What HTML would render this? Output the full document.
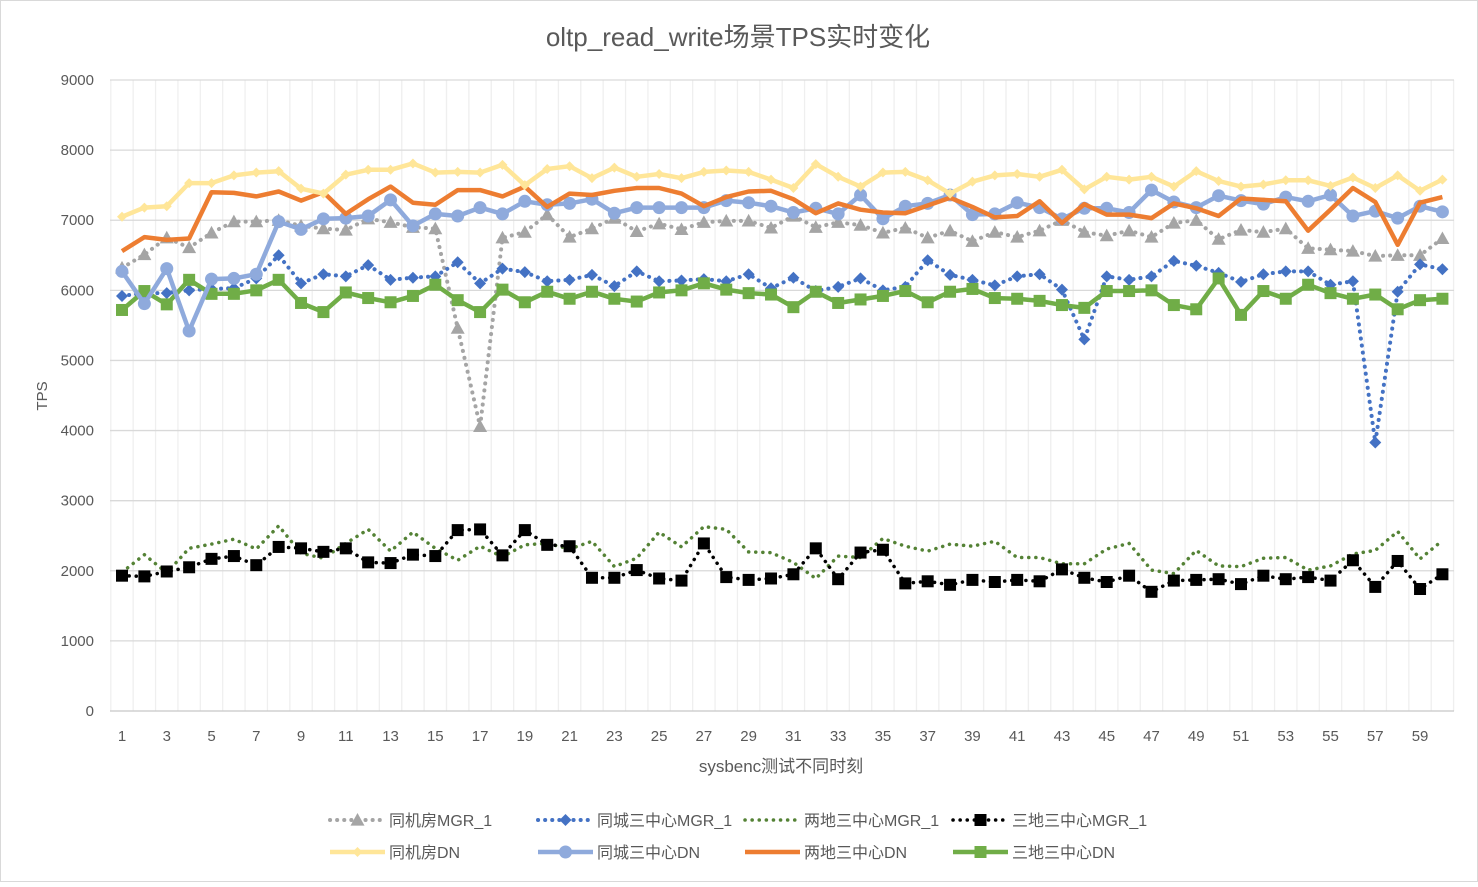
<!DOCTYPE html>
<html><head><meta charset="utf-8"><style>
body{margin:0;background:#fff}
svg text{font-family:"Liberation Sans","Noto Sans CJK SC",sans-serif;fill:#595959}
</style></head><body>
<svg id="c" width="1478" height="882" xmlns="http://www.w3.org/2000/svg">
<rect x="0.5" y="0.5" width="1477" height="881" fill="#fff" stroke="#d9d9d9"/>
<text x="738" y="46" font-size="26" text-anchor="middle">oltp_read_write场景TPS实时变化</text>
<text transform="translate(47,396) rotate(-90)" font-size="15" text-anchor="middle">TPS</text>
<text x="781" y="772" font-size="17" text-anchor="middle">sysbenc测试不同时刻</text>
<g id="grid"></g><g id="series"></g><g id="lab"></g><g id="leg"></g>
</svg>
<script>
const NS="http://www.w3.org/2000/svg";
function el(t,a,p){const e=document.createElementNS(NS,t);for(const k in a)e.setAttribute(k,a[k]);if(p)p.appendChild(e);return e;}
const X=i=>122+(i-1)*22.38, Y=v=>711-v*0.07011;
const g=document.getElementById('grid'),lab=document.getElementById('lab');
for(let k=0;k<=60;k++){const x=110.8+k*22.38;el('line',{x1:x,x2:x,y1:80,y2:711,stroke:'#efefef','stroke-width':1.3},g);}
for(let v=0;v<=9000;v+=1000){const y=Y(v);el('line',{x1:110,x2:1454,y1:y,y2:y,stroke:v?'#d9d9d9':'#c8c8c8','stroke-width':1.3},g);
 const t=el('text',{x:94,y:y+5,'font-size':15,'text-anchor':'end'},lab);t.textContent=v;}
for(let i=1;i<=60;i+=2){const t=el('text',{x:X(i),y:741,'font-size':15,'text-anchor':'middle'},lab);t.textContent=i;}
const D={
y:[7050,7180,7200,7530,7530,7640,7680,7700,7450,7380,7650,7720,7720,7810,7680,7690,7680,7790,7500,7730,7770,7600,7750,7620,7660,7600,7690,7710,7690,7580,7460,7800,7620,7480,7680,7690,7570,7380,7550,7640,7660,7620,7720,7440,7620,7580,7620,7480,7700,7560,7480,7510,7570,7570,7490,7610,7460,7640,7420,7580],
o:[6560,6760,6720,6740,7400,7390,7340,7410,7280,7400,7090,7300,7480,7250,7220,7430,7430,7340,7480,7190,7380,7360,7420,7460,7460,7380,7200,7330,7410,7420,7300,7100,7240,7150,7110,7100,7210,7320,7190,7040,7060,7270,6960,7230,7080,7080,7030,7240,7170,7060,7310,7290,7270,6850,7150,7460,7260,6650,7250,7330],
lb:[6270,5810,6310,5420,6160,6170,6230,6980,6870,7020,7030,7060,7290,6920,7090,7060,7180,7090,7270,7220,7240,7300,7100,7180,7180,7180,7180,7280,7250,7200,7110,7170,7090,7360,7020,7200,7240,7360,7080,7090,7250,7180,7020,7170,7170,7110,7430,7260,7180,7350,7280,7230,7330,7270,7360,7060,7130,7030,7200,7120],
gr:[6320,6510,6750,6610,6820,6980,6980,7000,6920,6880,6860,7020,6970,6900,6880,5460,4060,6750,6830,7080,6760,6880,7030,6840,6950,6870,6970,6990,6990,6890,7060,6900,6970,6930,6820,6890,6750,6850,6700,6830,6760,6850,7000,6830,6780,6850,6760,6960,7000,6730,6860,6830,6880,6600,6580,6560,6490,6500,6500,6740],
bd:[5920,5960,5960,6000,6020,6030,6170,6500,6100,6230,6200,6360,6150,6180,6200,6400,6100,6310,6260,6130,6150,6220,6060,6270,6130,6140,6160,6130,6230,6030,6180,5990,6050,6170,6000,6050,6430,6220,6150,6070,6200,6230,6010,5300,6200,6150,6200,6420,6350,6250,6120,6230,6270,6270,6080,6130,3830,5980,6370,6300],
g:[5720,5990,5800,6150,5950,5950,6000,6150,5820,5690,5970,5890,5830,5920,6080,5860,5690,6010,5830,5980,5880,5980,5880,5840,5970,6000,6100,6010,5960,5940,5760,5980,5820,5870,5920,5990,5830,5980,6020,5890,5880,5850,5790,5750,5990,5990,6000,5790,5730,6170,5650,5990,5880,6080,5960,5880,5940,5730,5860,5880],
k:[1930,1920,1990,2050,2170,2210,2080,2340,2320,2270,2320,2120,2110,2230,2210,2580,2590,2220,2580,2370,2350,1900,1900,2010,1890,1860,2390,1910,1870,1890,1950,2320,1880,2260,2300,1820,1850,1800,1870,1840,1870,1850,2020,1900,1840,1930,1700,1860,1870,1880,1810,1930,1880,1910,1860,2150,1770,2140,1740,1950],
gd:[1980,2230,1970,2320,2380,2450,2310,2640,2250,2180,2390,2590,2280,2550,2320,2150,2350,2200,2370,2390,2310,2420,2060,2180,2550,2340,2630,2590,2270,2260,2120,1890,2210,2190,2460,2350,2280,2380,2350,2420,2190,2190,2100,2100,2310,2390,2010,1960,2290,2070,2060,2180,2190,2010,2070,2240,2290,2560,2170,2430]};
function marker(p,type,x,y,c,s){
 if(type=='tri')el('polygon',{points:`${x},${y-s} ${x-s},${y+s*0.8} ${x+s},${y+s*0.8}`,fill:c},p);
 else if(type=='dia')el('polygon',{points:`${x},${y-s} ${x+s},${y} ${x},${y+s} ${x-s},${y}`,fill:c},p);
 else if(type=='sq')el('rect',{x:x-s,y:y-s,width:2*s,height:2*s,fill:c},p);
 else if(type=='cir')el('circle',{cx:x,cy:y,r:s,fill:c},p);
}
const S=[
 {d:'gr',c:'#a5a5a5',w:4,dot:1,m:'tri',s:7,name:'同机房MGR_1'},
 {d:'bd',c:'#4472c4',w:4,dot:1,m:'dia',s:6,name:'同城三中心MGR_1'},
 {d:'gd',c:'#548235',w:3.5,dot:1,m:null,name:'两地三中心MGR_1'},
 {d:'k',c:'#000',w:3.5,dot:1,m:'sq',s:6,name:'三地三中心MGR_1'},
 {d:'y',c:'#ffe699',w:4.5,m:'dia',s:5,name:'同机房DN'},
 {d:'lb',c:'#8faadc',w:4.5,m:'cir',s:6.5,name:'同城三中心DN'},
 {d:'o',c:'#ed7d31',w:4.5,m:null,name:'两地三中心DN'},
 {d:'g',c:'#70ad47',w:4.5,m:'sq',s:6,name:'三地三中心DN'}];
const sg=document.getElementById('series'),lg=document.getElementById('leg');
const order=['gd','k','gr','bd','g','lb','o','y'];
order.forEach(id=>{const s=S.find(q=>q.d==id);const p=el('g',{},sg);
 const pts=D[id].map((v,i)=>X(i+1).toFixed(1)+','+Y(v).toFixed(1)).join(' ');
 const a={points:pts,fill:'none',stroke:s.c,'stroke-width':s.w,'stroke-linejoin':'round'};
 if(s.dot){a['stroke-dasharray']='0.1 7';a['stroke-linecap']='round';}
 el('polyline',a,p);
 if(s.m)D[id].forEach((v,i)=>marker(p,s.m,X(i+1),Y(v),s.c,s.s));
});
const lx=[330,538,745,953];
S.forEach((s,i)=>{const x=lx[i%4],y=i<4?820:852;
 const a={x1:x,x2:x+55,y1:y,y2:y,stroke:s.c,'stroke-width':s.w};
 if(s.dot){a['stroke-dasharray']='0.1 7';a['stroke-linecap']='round';}
 el('line',a,lg); if(s.m)marker(lg,s.m,x+27.5,y,s.c,s.s);
 const t=el('text',{x:x+59,y:y+6,'font-size':16},lg);t.textContent=s.name;});
</script>
</body></html>
